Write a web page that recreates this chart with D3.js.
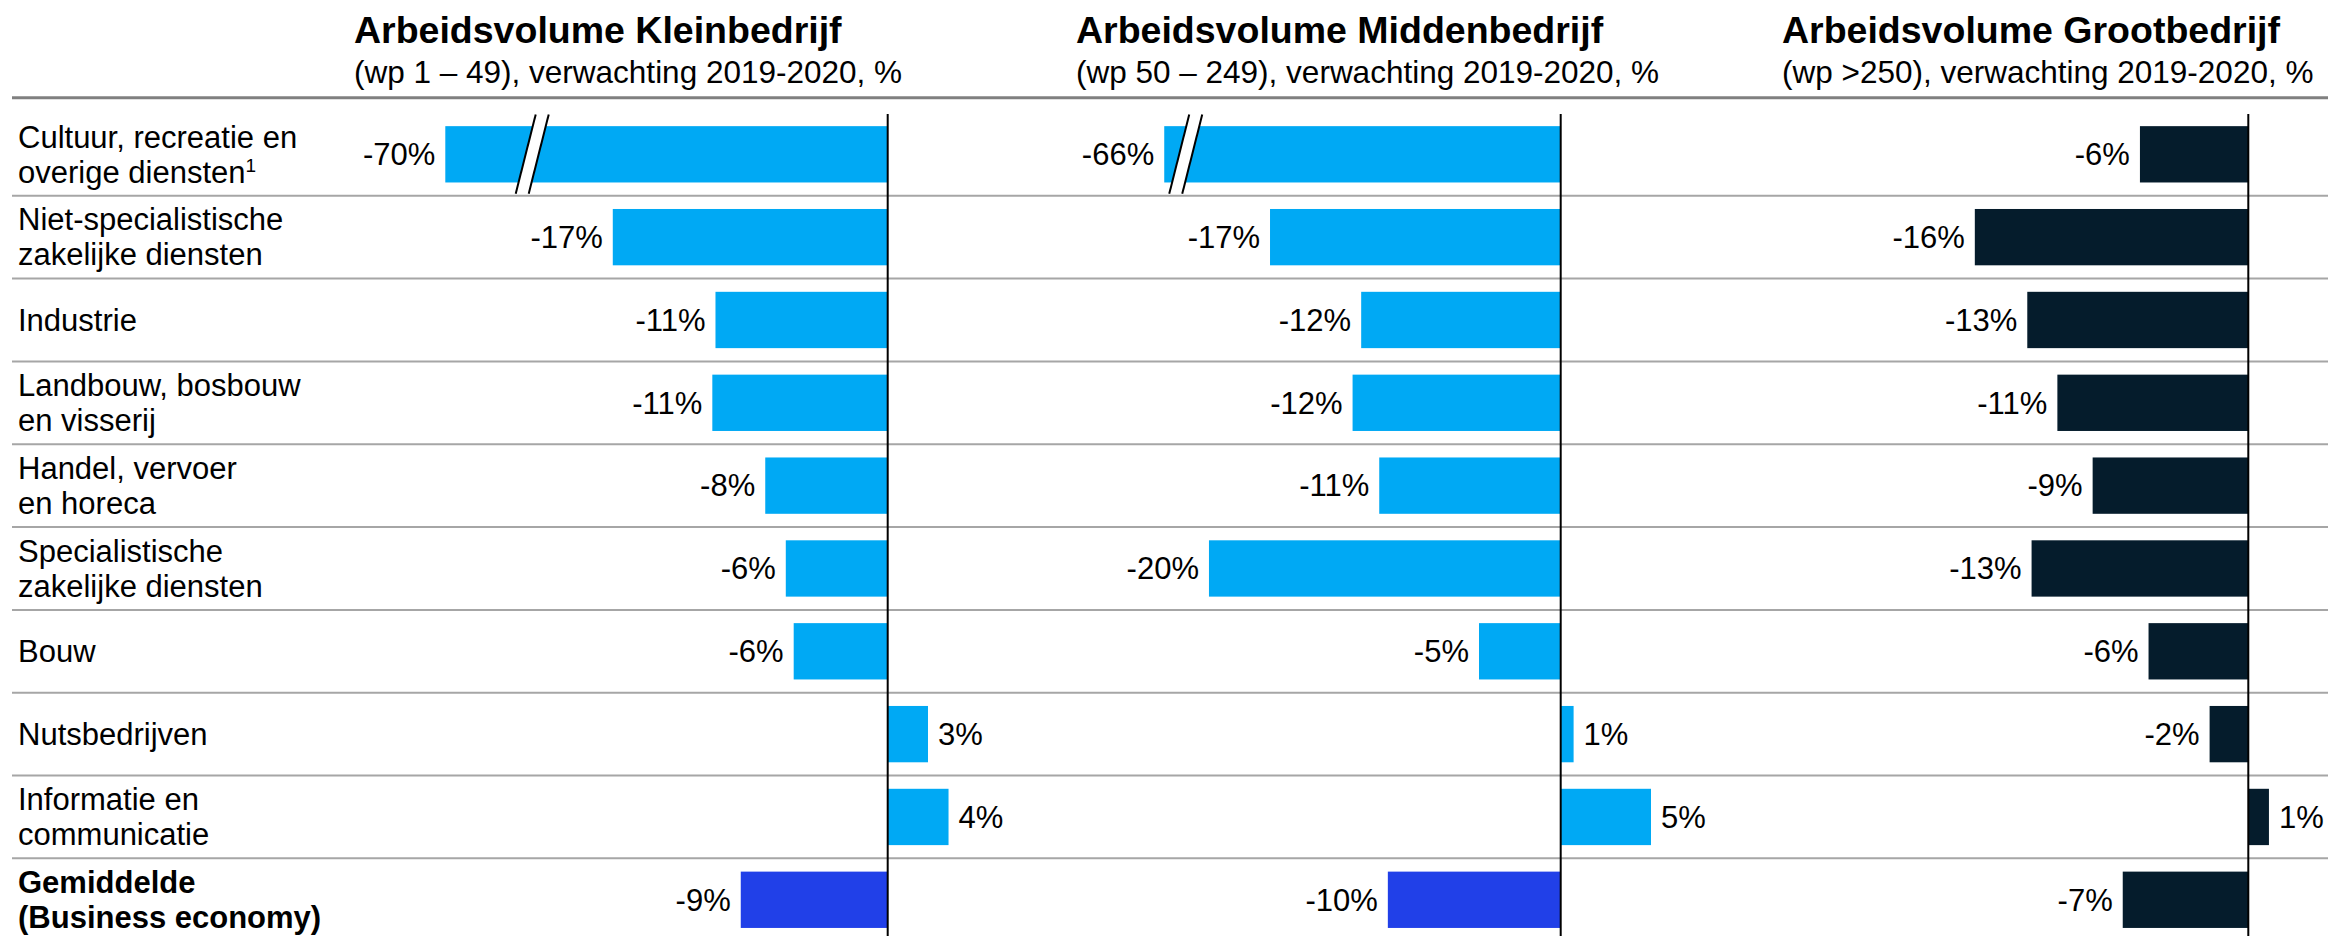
<!DOCTYPE html>
<html lang="nl">
<head>
<meta charset="UTF-8" />
<title>Arbeidsvolume verwachting 2019-2020</title>
<script src="https://cdn.jsdelivr.net/npm/d3@7"></script>
<style>
  body { margin: 0; background: #fff; }
  svg { display: block; font-family: "Liberation Sans", Arial, sans-serif; }
</style>
</head>
<body>
<script>
// sectors, top to bottom
const sectors = ["cultuur", "nietspec", "industrie", "landbouw", "handel", "spec", "bouw", "nuts", "info", "gem"];
const sectorLines = [
  ["Cultuur, recreatie en", "overige diensten"],
  ["Niet-specialistische", "zakelijke diensten"],
  ["Industrie"],
  ["Landbouw, bosbouw", "en visserij"],
  ["Handel, vervoer", "en horeca"],
  ["Specialistische", "zakelijke diensten"],
  ["Bouw"],
  ["Nutsbedrijven"],
  ["Informatie en", "communicatie"],
  ["Gemiddelde", "(Business economy)"]
];
const sectorNotes = ["1", "", "", "", "", "", "", "", "", ""];

// expected change in labour volume, %
const klein  = [-70, -17.4, -10.9, -11.1, -7.75, -6.45, -5.95, 2.55, 3.85, -9.3];
const midden = [-66, -16.9, -11.6, -12.1, -10.55, -20.45, -4.75, 0.75, 5.25, -10.05];
const groot  = [-6.3, -15.9, -12.85, -11.1, -9.05, -12.6, -5.8, -2.25, 1.2, -7.3];

const titles = ["Arbeidsvolume Kleinbedrijf", "Arbeidsvolume Middenbedrijf", "Arbeidsvolume Grootbedrijf"];
const subtitles = [
  "(wp 1 \u2013 49), verwachting 2019-2020, %",
  "(wp 50 \u2013 249), verwachting 2019-2020, %",
  "(wp >250), verwachting 2019-2020, %"
];
// axis extent per panel; bars beyond the minimum get a break mark
const domains = [[-28, 4.2], [-23.05, 5.6], [-16, 1.6]];
const breakAt = [-22.5, -21.8];

const barColors = ["#00a9f4", "#00a9f4", "#051c2c"];
const avgColors = ["#2140e8", "#2140e8", "#051c2c"];

const W = 2328, H = 936;
const fontSize = 31;

const panels = [
  { values: klein,  zero: 887.7,  k: 15.8, titleX: 354 },
  { values: midden, zero: 1560.7, k: 17.2, titleX: 1076 },
  { values: groot,  zero: 2248.3, k: 17.2, titleX: 1782 }
];

const svg = d3.select("body").append("svg")
  .attr("width", W)
  .attr("height", H);

const y = d3.scaleBand()
  .domain(sectors)
  .range([112.9, 112.9 + 82.83 * sectors.length])
  .padding(0);
const bw = y.bandwidth();
const barH = bw * 0.68;

// header rule + row separators
svg.append("line")
  .attr("x1", 12).attr("x2", W)
  .attr("y1", 97.7).attr("y2", 97.7)
  .attr("stroke", "#808080")
  .attr("stroke-width", 3);

svg.selectAll("line.sep")
  .data(sectors.slice(1))
  .enter()
  .append("line")
  .attr("class", "sep")
  .attr("x1", 12).attr("x2", W)
  .attr("y1", d => y(d)).attr("y2", d => y(d))
  .attr("stroke", "#a6a6a6")
  .attr("stroke-width", 2);

// category labels
const cat = svg.selectAll("text.cat")
  .data(sectors)
  .enter()
  .append("text")
  .attr("class", "cat")
  .attr("x", 18)
  .attr("font-size", fontSize)
  .attr("font-weight", (d, i) => i === sectors.length - 1 ? "bold" : "normal")
  .attr("fill", "#000");

cat.each(function (d, i) {
  const lines = sectorLines[i];
  const cy = y(d) + bw / 2;
  const gap = 35;
  lines.forEach((line, j) => {
    d3.select(this).append("tspan")
      .attr("x", 18)
      .attr("y", cy + (j - (lines.length - 1) / 2) * gap + fontSize * 0.35)
      .text(line);
    if (j === lines.length - 1 && sectorNotes[i]) {
      d3.select(this).append("tspan")
        .attr("font-size", 19)
        .attr("dy", -11)
        .text(sectorNotes[i]);
    }
  });
});

panels.forEach((p, pi) => {
  const dom = domains[pi];
  const x = d3.scaleLinear()
    .domain(dom)
    .range([p.zero + dom[0] * p.k, p.zero + dom[1] * p.k]);

  const g = svg.append("g");

  g.append("text")
    .attr("x", p.titleX).attr("y", 43)
    .attr("font-size", 37.5)
    .attr("font-weight", "bold")
    .text(titles[pi]);

  g.append("text")
    .attr("x", p.titleX).attr("y", 83)
    .attr("font-size", 31.5)
    .text(subtitles[pi]);

  const rows = sectors.map((s, i) => ({ s, i, v: p.values[i] }));

  g.selectAll("rect")
    .data(rows)
    .enter()
    .append("rect")
    .attr("x", d => x(Math.min(0, Math.max(d.v, dom[0]))))
    .attr("y", d => y(d.s) + (bw - barH) / 2)
    .attr("width", d => Math.abs(x(Math.max(d.v, dom[0])) - x(0)))
    .attr("height", barH)
    .attr("fill", d => d.i === sectors.length - 1 ? avgColors[pi] : barColors[pi]);

  g.selectAll("text.val")
    .data(rows)
    .enter()
    .append("text")
    .attr("class", "val")
    .attr("x", d => d.v < 0 ? x(Math.max(d.v, dom[0])) - 10 : x(d.v) + 10)
    .attr("y", d => y(d.s) + bw / 2 + fontSize * 0.35)
    .attr("text-anchor", d => d.v < 0 ? "end" : "start")
    .attr("font-size", fontSize)
    .text(d => Math.round(d.v) + "%");

  // break marks for truncated bars
  const cut = rows.filter(d => d.v < dom[0]);
  cut.forEach(d => {
    const cx = x(breakAt[pi]);
    const top = y(d.s) + 1.5, bot = y(d.s) + bw - 2;
    const sl = 10, gp = 6.5;
    g.append("polygon")
      .attr("points", [
        [cx - gp + sl, top], [cx + gp + sl, top],
        [cx + gp - sl, bot], [cx - gp - sl, bot]
      ].map(q => q.join(",")).join(" "))
      .attr("fill", "#fff");
    [-gp, gp].forEach(o => {
      g.append("line")
        .attr("x1", cx + o + sl).attr("y1", top)
        .attr("x2", cx + o - sl).attr("y2", bot)
        .attr("stroke", "#000")
        .attr("stroke-width", 2);
    });
  });

  // zero line
  g.append("line")
    .attr("x1", x(0)).attr("x2", x(0))
    .attr("y1", 114).attr("y2", H)
    .attr("stroke", "#000")
    .attr("stroke-width", 2);
});
</script>
</body>
</html>
